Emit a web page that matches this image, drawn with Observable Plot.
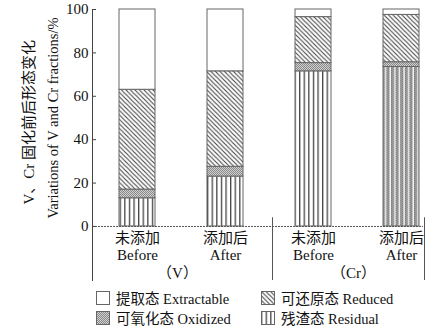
<!DOCTYPE html>
<html>
<head>
<meta charset="utf-8">
<script src="https://cdn.jsdelivr.net/npm/d3@7"></script>
<script src="https://cdn.jsdelivr.net/npm/@observablehq/plot@0.6"></script>
<style>
  body { margin: 0; background: #fff; }
  #wrap { position: relative; width: 437px; height: 330px; font-family: "Liberation Serif", "Noto Sans CJK SC", serif; }
  #legend { position: absolute; left: 0; top: 283px; width: 437px; height: 44px; font-size: 14.5px; color: #111; }
  .item { position: absolute; display: flex; align-items: center; white-space: nowrap; }
  .item svg { margin-right: 6px; }
</style>
</head>
<body>
<div id="wrap"></div>
<script>
// ---- data ----
const bars = ["V-Before", "V-After", "Cr-Before", "Cr-After"];
const catZh = ["未添加", "添加后", "未添加", "添加后"];
const catEn = ["Before", "After", "Before", "After"];
const groupLabels = ["（V）", "（Cr）"];
const groupFirst = ["V-Before", "Cr-Before"];
const fractions = ["Residual", "Oxidized", "Reduced", "Extractable"];
const fractionZh = ["残渣态", "可氧化态", "可还原态", "提取态"];
const residual = [13, 23, 71.5, 73.5];
const oxidized = [4, 4.5, 3.8, 2.2];
const reduced = [46, 44, 21.2, 21.8];
const extractable = [37, 28.5, 3.5, 2.5];
const yTicks = [0, 20, 40, 60, 80, 100];

const series = {Residual: residual, Oxidized: oxidized, Reduced: reduced, Extractable: extractable};
const rows = [];
bars.forEach((b, i) => fractions.forEach(f => rows.push({bar: b, fraction: f, value: series[f][i]})));

const fillFor = d => {
  if (d.fraction === "Extractable") return "#ffffff";
  if (d.fraction === "Reduced") return "url(#pRed)";
  if (d.fraction === "Oxidized") return "url(#pOx)";
  return d.bar === "Cr-After" ? "url(#pRes2)" : "url(#pRes)";
};

const font = '"Liberation Serif", "Noto Sans CJK SC", serif';

const chart = Plot.plot({
  width: 437,
  height: 286,
  marginTop: 9,
  marginBottom: 6,
  marginLeft: 92,
  marginRight: 14,
  style: {fontFamily: font, fontSize: "14.5px", color: "#111", background: "#fff"},
  x: {type: "band", domain: bars, range: [93, 445], paddingInner: 0.59, paddingOuter: 0.295, axis: null},
  y: {domain: [-24.9, 100], axis: null},
  color: {type: "identity"},
  marks: [
    Plot.barY(rows, {x: "bar", y: "value", fill: fillFor, stroke: "#666", strokeWidth: 1, order: null}),
    // left axis line and x baseline
    Plot.frame({anchor: "left", stroke: "#444"}),
    Plot.ruleY([0], {stroke: "#555", strokeDasharray: "2,1"}),
    // separator and right border below baseline
    Plot.ruleX(["Cr-Before"], {x: d => d, y1: 4, y2: -24.9, dx: -41, stroke: "#555"}),
    Plot.ruleX(["Cr-After"], {x: d => d, y1: 4, y2: -24.9, dx: 23, stroke: "#555"}),
    // y ticks and labels
    Plot.tickY(yTicks, {y: d => d, insetRight: 331 - 4, stroke: "#444"}),
    Plot.text(yTicks, {y: d => d, text: d => String(d), frameAnchor: "left", dx: -4, textAnchor: "end", fontSize: 15}),
    // y axis titles
    Plot.text(["V、Cr 固化前后形态变化"], {y: 48, text: d => d, frameAnchor: "left", textAnchor: "middle", lineAnchor: "middle", rotate: -90, dx: -63, fontSize: 15}),
    Plot.text(["Variations of V and Cr fractions/%"], {y: 50, text: d => d, frameAnchor: "left", textAnchor: "middle", lineAnchor: "middle", rotate: -90, dx: -39, fontSize: 14.5}),
    // category labels
    Plot.text(bars, {x: d => d, y: 0, text: (d, i) => catZh[i] + "\n" + catEn[i], lineAnchor: "top", dy: 5, lineHeight: 1.12, fontSize: 15}),
    // group labels
    Plot.text(groupFirst, {x: d => d, y: 0, text: (d, i) => groupLabels[i], lineAnchor: "top", dy: 41, dx: 40, fontSize: 15})
  ]
});

const defs = `
<defs>
  <pattern id="pRed" patternUnits="userSpaceOnUse" width="4.5" height="4.5">
    <rect width="4.5" height="4.5" fill="#fff"/>
    <path d="M-1,-1 L5.5,5.5 M-1,3.5 L1,5.5 M3.5,-1 L5.5,1" stroke="#444" stroke-width="1.1"/>
  </pattern>
  <pattern id="pOx" patternUnits="userSpaceOnUse" width="2" height="2">
    <rect width="2" height="2" fill="#cfcfcf"/>
    <rect width="1" height="1" fill="#8a8a8a"/>
    <rect x="1" y="1" width="1" height="1" fill="#8a8a8a"/>
  </pattern>
  <pattern id="pRes" patternUnits="userSpaceOnUse" width="4.6" height="10">
    <rect width="4.6" height="10" fill="#fff"/>
    <rect x="0" width="1.3" height="10" fill="#444"/>
  </pattern>
  <pattern id="pRes2" patternUnits="userSpaceOnUse" width="4.6" height="2">
    <rect width="4.6" height="2" fill="#9a9a9a"/>
    <rect x="0" y="0" width="1" height="1" fill="#777"/>
    <rect x="2" y="1" width="1" height="1" fill="#777"/>
    <rect x="3.2" width="1.3" height="2" fill="#fff"/>
  </pattern>
</defs>`;
chart.insertAdjacentHTML("afterbegin", defs);

const wrap = document.getElementById("wrap");
wrap.appendChild(chart);

// legend
const legend = document.createElement("div");
legend.id = "legend";
const legendOrder = ["Extractable", "Reduced", "Oxidized", "Residual"];
const legendPos = [[96, 4], [261, 4], [96, 24], [261, 24]];
const swatchFill = {Extractable: "#fff", Reduced: "url(#pRed)", Oxidized: "url(#pOx)", Residual: "url(#pRes)"};
legendOrder.forEach((f, i) => {
  const it = document.createElement("div");
  it.className = "item";
  it.style.left = legendPos[i][0] + "px";
  it.style.top = legendPos[i][1] + "px";
  const zh = fractionZh[fractions.indexOf(f)];
  it.innerHTML = `<svg width="14" height="14"><rect x="0.5" y="0.5" width="13" height="13" fill="${swatchFill[f]}" stroke="#666"/></svg><span>${zh} ${f}</span>`;
  legend.appendChild(it);
});
wrap.appendChild(legend);
</script>
</body>
</html>
